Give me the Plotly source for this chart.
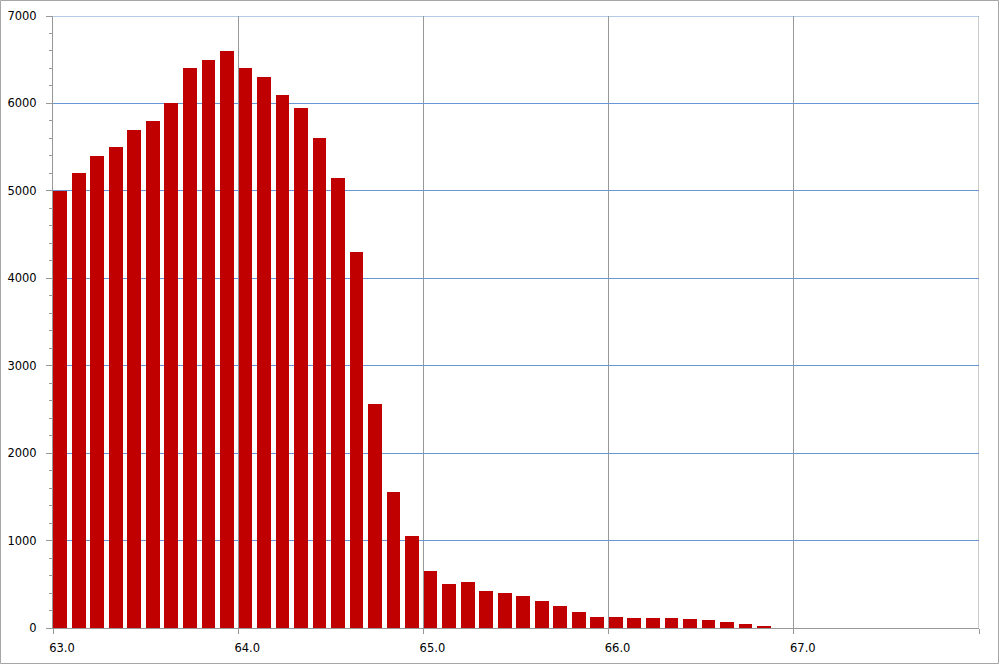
import plotly.graph_objects as go

bin_starts = [63.0, 63.1, 63.2, 63.3, 63.4, 63.5, 63.6, 63.7, 63.8, 63.9,
              64.0, 64.1, 64.2, 64.3, 64.4, 64.5, 64.6, 64.7, 64.8, 64.9,
              65.0, 65.1, 65.2, 65.3, 65.4, 65.5, 65.6, 65.7, 65.8, 65.9,
              66.0, 66.1, 66.2, 66.3, 66.4, 66.5, 66.6, 66.7, 66.8]
counts = [5000, 5200, 5400, 5500, 5700, 5800, 6000, 6400, 6500, 6600,
          6400, 6300, 6100, 5950, 5600, 5145, 4295, 2560, 1555, 1050,
          652, 500, 525, 427, 397, 362, 312, 248, 187, 126,
          126, 114, 112, 111, 99, 88, 72, 49, 23]

x_tickvals = [63, 64, 65, 66, 67, 68]
x_ticktext = ["63.0", "64.0", "65.0", "66.0", "67.0", ""]
y_tickvals = [0, 1000, 2000, 3000, 4000, 5000, 6000, 7000]

W, H = 1000, 665
L, R, T, B = 53, 21, 16, 37
pw, ph = W - L - R, H - T - B

BLUE = "#6896d2"
GRAY = "#989898"

fig = go.Figure()
fig.add_trace(go.Bar(
    x=bin_starts, y=counts,
    width=0.074, offset=0.002,
    marker=dict(color="#c00000", line=dict(width=0)),
    hoverinfo="x+y",
))

fig.update_layout(
    width=W, height=H,
    margin=dict(l=L, r=R, t=T, b=B, pad=0, autoexpand=False),
    paper_bgcolor="white", plot_bgcolor="white",
    showlegend=False,
    bargap=0,
    font=dict(family="DejaVu Sans", size=11.5, color="#000000"),
    xaxis=dict(
        range=[63, 68], tickvals=x_tickvals, ticktext=x_ticktext,
        showgrid=True, gridcolor=GRAY, gridwidth=1,
        showline=True, linecolor=GRAY, linewidth=1,
        ticks="outside", ticklen=5, tickcolor=GRAY,
        ticklabelshift=9, ticklabelstandoff=4,
        zeroline=False, automargin=False,
    ),
    yaxis=dict(
        range=[0, 7000], tickvals=y_tickvals,
        showgrid=True, gridcolor=BLUE, gridwidth=1,
        showline=True, linecolor=GRAY, linewidth=1,
        ticks="outside", ticklen=6, tickcolor=GRAY,
        ticklabelstandoff=7,
        minor=dict(dtick=200, ticks="outside", ticklen=3, tickcolor=GRAY, showgrid=False),
        zeroline=False, automargin=False,
    ),
)

# top (7000) and right (68) plot-area edges, as in the reference
fig.add_shape(type="line", xref="paper", yref="y", x0=0, x1=1,
              y0=y_tickvals[-1], y1=y_tickvals[-1],
              line=dict(color=BLUE, width=1), layer="below")
fig.add_shape(type="line", xref="x", yref="paper", x0=x_tickvals[-1], x1=x_tickvals[-1],
              y0=0, y1=1, line=dict(color=GRAY, width=1), layer="below")

# outer chart border
fig.add_shape(
    type="rect", xref="paper", yref="paper",
    x0=(-L + 0.5) / pw, x1=1 + (R - 1.5) / pw,
    y0=(-B + 1.5) / ph, y1=1 + (T - 0.5) / ph,
    line=dict(color="#a6a6a6", width=1), layer="below",
)

fig.write_html(
    "out.html",
    config={"displayModeBar": False},
    post_script="document.body.style.margin='0';document.body.style.overflow='hidden';",
)
